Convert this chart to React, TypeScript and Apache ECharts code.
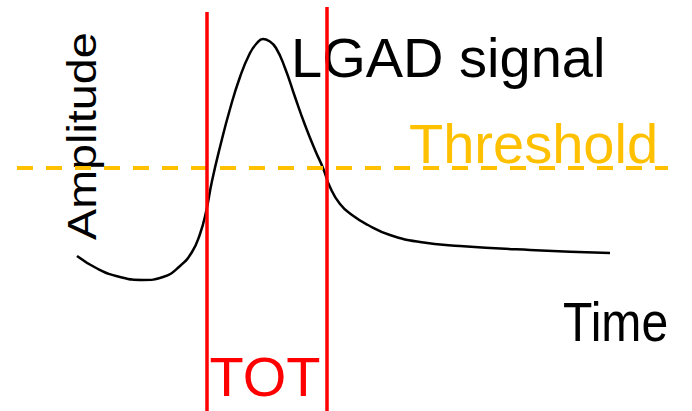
import React, { useEffect, useRef } from "react";
import * as echarts from "echarts";

// Signal curve (time axis 0..692, amplitude axis 0..411)
const signalTime = [77, 98, 120, 143, 163, 180, 192, 200, 206, 212, 220, 230, 240, 250, 257, 263, 269, 276, 285, 295, 305, 315, 323, 330, 340, 352, 368, 390, 420, 460, 530, 610];
const signalAmp = [155, 142, 134, 131, 134, 145, 159, 177, 199, 230, 264, 302, 334, 358, 368, 372, 370, 363, 343, 314, 286, 261, 243, 224, 207, 196, 186, 176, 169, 165, 161, 158];

const thresholdLevel = 243;
const thresholdSpan = [17, 668];

// Time-over-threshold markers: crossing times and the top of each marker
const totTimes = [207, 327];
const totTops = [399, 404];

const FONT = "'Liberation Sans', Arial, Helvetica, sans-serif";

export default function App() {
  const ref = useRef<HTMLDivElement>(null);

  useEffect(() => {
    if (!ref.current) return;
    const chart = echarts.init(ref.current, undefined, { renderer: "svg" });

    const signalData = signalTime.map((t, i) => [t, signalAmp[i]]);
    const thresholdData = thresholdSpan.map((t) => [t, thresholdLevel]);

    const totSeries = totTimes.map((t, i) => ({
      type: "line" as const,
      data: [
        [t, 0],
        [t, totTops[i]],
      ],
      symbol: "none",
      lineStyle: { color: "#FF0000", width: 3.5 },
      z: 5,
      silent: true,
    }));

    chart.setOption({
      animation: false,
      backgroundColor: "#ffffff",
      grid: { left: 0, right: 0, top: 0, bottom: 0, containLabel: false },
      xAxis: { type: "value", min: 0, max: 692, show: false },
      yAxis: { type: "value", min: 0, max: 411, show: false },
      graphic: [
        {
          type: "text",
          x: 291,
          y: 57,
          z: 0,
          style: { text: "LGAD signal", fill: "#000000", font: `56px ${FONT}`, textAlign: "left", verticalAlign: "middle" },
        },
        {
          type: "text",
          x: 409,
          y: 143,
          z: 0,
          style: { text: "Threshold", fill: "#FFC000", font: `56px ${FONT}`, textAlign: "left", verticalAlign: "middle" },
        },
        {
          type: "text",
          x: 209.5,
          y: 376,
          z: 0,
          style: { text: "TOT", fill: "#FF0000", font: `56px ${FONT}`, textAlign: "left", verticalAlign: "middle" },
        },
        {
          type: "text",
          x: 563,
          y: 322,
          scaleX: 0.86,
          z: 0,
          style: { text: "Time", fill: "#000000", font: `56px ${FONT}`, textAlign: "left", verticalAlign: "middle" },
        },
        {
          type: "text",
          x: 82,
          y: 240,
          rotation: Math.PI / 2,
          scaleX: 1.14,
          z: 0,
          style: { text: "Amplitude", fill: "#000000", font: `41px ${FONT}`, textAlign: "left", verticalAlign: "middle" },
        },
      ],
      series: [
        {
          type: "line",
          data: signalData,
          smooth: 0.5,
          symbol: "none",
          lineStyle: { color: "#000000", width: 2.5 },
          z: 3,
          silent: true,
        },
        {
          type: "line",
          data: thresholdData,
          symbol: "none",
          lineStyle: { color: "#FFC000", width: 4, type: [16, 13] },
          z: 4,
          silent: true,
        },
        ...totSeries,
      ],
    });

    return () => chart.dispose();
  }, []);

  return (
    <div
      ref={ref}
      style={{ position: "fixed", left: 0, top: 0, width: 692, height: 411, background: "#ffffff" }}
    />
  );
}
